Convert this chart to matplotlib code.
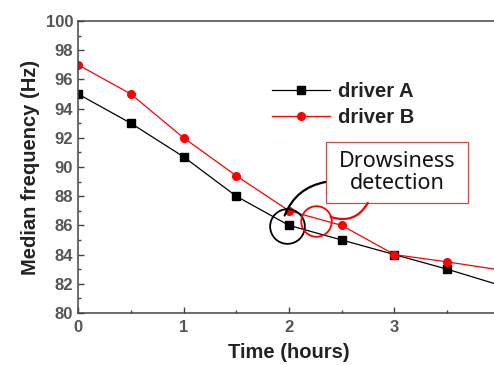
import matplotlib.pyplot as plt
from matplotlib.patches import Rectangle
from matplotlib.ticker import MultipleLocator, FixedLocator

# data
hours = [0, 0.5, 1, 1.5, 2, 2.5, 3, 3.5, 4]
driver_a = [95, 93, 90.7, 88, 86, 85, 84, 83, 81.9]
driver_b = [97, 95, 92, 89.4, 87, 86, 84, 83.5, 82.95]
labels = ["driver A", "driver B"]

plt.rcParams["font.family"] = ["Liberation Sans", "DejaVu Sans"]

fig = plt.figure(figsize=(4.94, 3.65), dpi=100)
ax = fig.add_axes([0.158, 0.1425, 0.854, 0.80])

ax.plot(hours, driver_a, color="black", lw=0.9, marker="s", ms=5.5, label=labels[0])
ax.plot(hours, driver_b, color="red", lw=0.9, marker="o", ms=5.5, label=labels[1])

ax.set_xlim(0, 4)
ax.set_ylim(80, 100)
ax.xaxis.set_major_locator(FixedLocator([0, 1, 2, 3]))
ax.xaxis.set_minor_locator(MultipleLocator(0.5))
ax.yaxis.set_major_locator(MultipleLocator(2))
ax.yaxis.set_minor_locator(MultipleLocator(1))
ax.tick_params(which="both", direction="in", colors="#444444", labelcolor="#555555",
               labelsize=12, width=1)
ax.tick_params(which="major", length=4)
ax.tick_params(which="minor", length=2)
ax.tick_params(axis="x", pad=5)
for t in ax.get_xticklabels() + ax.get_yticklabels():
    t.set_fontweight("bold")
for s in ax.spines.values():
    s.set_color("#444444")
    s.set_linewidth(1.1)

ax.set_xlabel("Time (hours)", fontsize=14.5, fontweight="bold", color="#222222", labelpad=6)
ax.set_ylabel("Median frequency (Hz)", fontsize=14.5, fontweight="bold", color="#222222", labelpad=4)

leg = ax.legend(loc="upper left", bbox_to_anchor=(0.44, 0.82), frameon=False,
                fontsize=14.5, handlelength=2.9, labelspacing=0.35, handletextpad=0.4,
                borderaxespad=0)
for t in leg.get_texts():
    t.set_color("#222222")
    t.set_fontweight("bold")

# annotation box, callout lines and circles
ax.add_patch(Rectangle((2.35, 87.5), 1.35, 4.2, fc="white", ec="#c0504d", lw=0.9, zorder=4))
ax.text(3.03, 89.6, "Drowsiness\ndetection", ha="center", va="center",
        fontsize=15.5, family=["Noto Sans", "DejaVu Sans"], color="#111111",
        linespacing=1.05, zorder=5)
ax.annotate("", xy=(1.95, 86.5), xytext=(2.37, 89.0),
            arrowprops=dict(arrowstyle="-", color="black", lw=1.6,
                            connectionstyle="arc3,rad=0.3"), zorder=6)
ax.annotate("", xy=(2.37, 86.65), xytext=(2.76, 87.7),
            arrowprops=dict(arrowstyle="-", color="red", lw=1.6,
                            connectionstyle="arc3,rad=-0.45"), zorder=6)
ax.plot([1.98], [85.96], marker="o", ms=25, mfc="none", mec="black", mew=1.3, zorder=6)
ax.plot([2.256], [86.3], marker="o", ms=22, mfc="none", mec="red", mew=1.3, zorder=6)

fig.savefig("out.png", dpi=100)
